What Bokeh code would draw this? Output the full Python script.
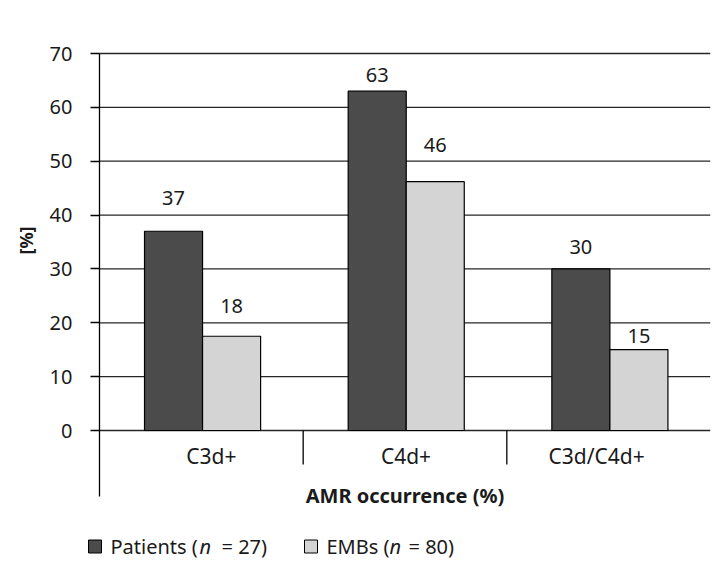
import numpy as np
from bokeh.plotting import figure
from bokeh.models import FixedTicker, Range1d
from bokeh.core.properties import value
from bokeh.embed import file_html
from bokeh.resources import INLINE

# ---------------- data ----------------
categories = ["C3d+", "C4d+", "C3d/C4d+"]
patients = [37, 63, 30]
embs = [17.5, 46.2, 15]
patients_labels = ["37", "63", "30"]
embs_labels = ["18", "46", "15"]
y_ticks = [0, 10, 20, 30, 40, 50, 60, 70]
series_names = ["Patients", "EMBs"]
series_n = [27, 80]
x_title = "AMR occurrence (%)"
y_title = "[%]"

# ---------------- style / layout ----------------
FONT = "Noto Sans"
C_PAT = "#4b4b4b"
C_EMB = "#d4d4d4"
TXT = "#1a1a1a"
LINE = "#262626"
W, H = 720, 566
FRAME_L, FRAME_T, FRAME_R = 4, 20, 710    # page pixels
AXIS_X = 99                               # page x of the value axis
AXIS_TOP, AXIS_ZERO = 53, 430             # page y of 70 and of 0
Y_MAX = 70
PX = (AXIS_ZERO - AXIS_TOP) / Y_MAX       # pixels per unit on y
XPX = (FRAME_R - AXIS_X) / len(categories)
y_end = Y_MAX + (AXIS_TOP - FRAME_T) / PX
y_min = y_end - (H - FRAME_T) / PX


def px_x(page_x):
    return (page_x - AXIS_X) / XPX


def px_y(page_y):
    return (AXIS_ZERO - page_y) / PX


BAR_W = 0.285
PAIR_CENTER = 0.506
pat_label_off = [33.5, 16, 21.5]   # px, label centre above bar top
emb_label_off = [30, 37, 13.3]
cat_nudge = [10, 1, -12]           # px

idx = np.arange(len(categories))
x_pat = idx + PAIR_CENTER - BAR_W / 2
x_emb = idx + PAIR_CENTER + BAR_W / 2

p = figure(width=W, height=H, x_range=Range1d(px_x(FRAME_L), len(categories)),
           y_range=Range1d(y_min, y_end), output_backend="svg",
           toolbar_location=None, x_axis_location=None,
           min_border_left=FRAME_L, min_border_right=W - FRAME_R,
           min_border_top=FRAME_T, min_border_bottom=0)
p.outline_line_color = None
p.background_fill_color = "white"
p.border_fill_color = "white"
p.xgrid.grid_line_color = None
p.ygrid.grid_line_color = None

# value axis, placed at the start of the first category
ax = p.yaxis[0]
ax.fixed_location = 0
ax.ticker = FixedTicker(ticks=y_ticks)
ax.bounds = (px_y(496), Y_MAX)
ax.axis_line_color = "black"
ax.axis_line_width = 1.3
ax.major_tick_out = 9
ax.major_tick_in = 0
ax.major_tick_line_width = 1.3
ax.major_tick_line_color = "black"
ax.minor_tick_line_color = None
ax.major_label_text_font = FONT
ax.major_label_text_font_size = "20px"
ax.major_label_text_color = TXT
ax.major_label_standoff = 18

# gridlines
p.segment(x0=[0] * len(y_ticks), y0=y_ticks,
          x1=[len(categories)] * len(y_ticks), y1=y_ticks,
          line_color=LINE, line_width=1.3)

# y title
p.text(x=[px_x(25)], y=[px_y(240)], text=[y_title], angle=np.pi / 2,
       text_align="center", text_baseline="middle",
       text_font=value(FONT), text_font_size="18px", text_font_style="bold",
       text_color=TXT)

# bars
p.vbar(x=x_pat, top=patients, bottom=0, width=BAR_W, fill_color=C_PAT,
       line_color="black", line_width=1.2)
p.vbar(x=x_emb, top=embs, bottom=0, width=BAR_W, fill_color=C_EMB,
       line_color="black", line_width=1.2)

# value labels
p.text(x=x_pat, y=np.array(patients) + np.array(pat_label_off) / PX,
       text=patients_labels, text_align="center", text_baseline="middle",
       text_font=value(FONT), text_font_size="20px", text_color=TXT)
p.text(x=x_emb, y=np.array(embs) + np.array(emb_label_off) / PX,
       text=embs_labels, text_align="center", text_baseline="middle",
       text_font=value(FONT), text_font_size="20px", text_color=TXT)

# category separators and labels
seps = list(range(1, len(categories)))
p.segment(x0=seps, y0=[0] * len(seps), x1=seps, y1=[px_y(464)] * len(seps),
          line_color="black", line_width=1.3)
p.text(x=idx + 0.5 + np.array(cat_nudge) / XPX,
       y=[px_y(455)] * len(categories), text=categories,
       text_align="center", text_baseline="middle",
       text_font=value(FONT), text_font_size="21px", text_color=TXT)

# x title
p.text(x=[len(categories) / 2], y=[px_y(495)], text=[x_title],
       text_align="center", text_baseline="middle",
       text_font=value(FONT), text_font_size="20px", text_font_style="bold",
       text_color=TXT)

# legend
sq_left = [88, 304]
txt_start = [110, 326]
n_start = [199, 389]
eq_start = [221, 408]
colors = [C_PAT, C_EMB]
LEG_Y = px_y(546)
p.rect(x=[px_x(v + 6.5) for v in sq_left], y=[LEG_Y] * 2, width=13, height=13,
       width_units="screen", height_units="screen",
       fill_color=colors, line_color="black", line_width=1)
p.text(x=[px_x(v) for v in txt_start], y=[LEG_Y] * 2,
       text=[f"{s} (" for s in series_names], text_baseline="middle",
       text_font=value(FONT), text_font_size="20px", text_color=TXT)
p.text(x=[px_x(v) for v in n_start], y=[LEG_Y] * 2,
       text=["n", "n"], text_baseline="middle", text_font_style="italic",
       text_font=value(FONT), text_font_size="20px", text_color=TXT)
p.text(x=[px_x(v) for v in eq_start], y=[LEG_Y] * 2,
       text=[f"= {n})" for n in series_n], text_baseline="middle",
       text_font=value(FONT), text_font_size="20px", text_color=TXT)

open("out.html", "w").write(file_html(p, INLINE))
